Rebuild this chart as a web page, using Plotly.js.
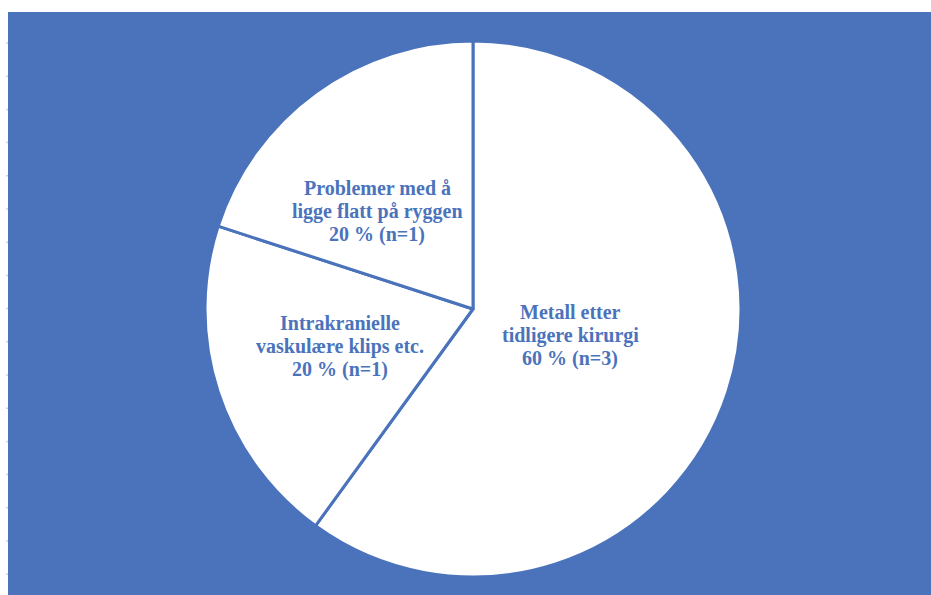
<!DOCTYPE html>
<html>
<head>
<meta charset="utf-8">
<script src="https://cdn.plot.ly/plotly-3.0.1.min.js"></script>
<style>
  html, body { margin: 0; padding: 0; background: #ffffff; }
  #chart { width: 931px; height: 595px; }
</style>
</head>
<body>
<div id="chart"></div>
<script>
// Reasons, in clockwise order from 12 o'clock
const categories = [
  "Metall etter<br>tidligere kirurgi",
  "Intrakranielle<br>vaskulære klips etc.",
  "Problemer med å<br>ligge flatt på ryggen"
];
// Number of patients per reason
const counts = [3, 1, 1];

const BLUE = "#4a73bc";
const W = 931, H = 595;

const total = counts.reduce((a, b) => a + b, 0);
const labelTexts = categories.map((c, i) =>
  c + "<br>" + Math.round(counts[i] / total * 100) + " % (n=" + counts[i] + ")"
);

// Label anchor points in pixels (centre of each text block) and line pitch
const labelPos = [[570, 335], [340, 346], [377, 211]];
const LINE_PITCH = 23.5;

// Pie geometry in pixels
const cx = 473, cy = 309, r = 268;

const trace = {
  type: "pie",
  labels: categories,
  values: counts,
  sort: false,
  direction: "clockwise",
  rotation: 0,
  textinfo: "none",
  hoverinfo: "label+value+percent",
  marker: {
    colors: categories.map(() => "#ffffff"),
    line: { color: BLUE, width: 3 }
  },
  domain: {
    x: [(cx - r) / W, (cx + r) / W],
    y: [1 - (cy + r) / H, 1 - (cy - r) / H]
  },
  showlegend: false
};

// Faint tick marks along the left edge of the panel
const edgeTicks = [];
for (let y = 43; y <= 575; y += 33.2) {
  edgeTicks.push({
    type: "line", xref: "paper", yref: "paper", layer: "above",
    x0: 6 / W, x1: 8 / W, y0: 1 - y / H, y1: 1 - y / H,
    line: { color: "#d0d0d0", width: 1.5 }
  });
}

// One annotation per text line so the line pitch can be set exactly
const annotations = [];
labelTexts.forEach((t, i) => {
  const lines = t.split("<br>");
  lines.forEach((ln, k) => {
    const yPix = labelPos[i][1] + (k - (lines.length - 1) / 2) * LINE_PITCH;
    annotations.push({
      text: ln,
      xref: "paper", yref: "paper",
      x: labelPos[i][0] / W, y: 1 - yPix / H,
      xanchor: "center", yanchor: "middle",
      showarrow: false,
      font: { family: "Liberation Serif, Times New Roman, serif", size: 20, weight: "bold", color: BLUE }
    });
  });
});

const layout = {
  width: W,
  height: H,
  margin: { l: 0, r: 0, t: 0, b: 0 },
  paper_bgcolor: "#ffffff",
  plot_bgcolor: "rgba(0,0,0,0)",
  shapes: [
    {
      type: "rect", xref: "paper", yref: "paper", layer: "below",
      x0: 8 / W, x1: 1, y0: 0, y1: 1 - 12 / H,
      fillcolor: BLUE, line: { width: 0 }
    }
  ].concat(edgeTicks),
  annotations: annotations
};

Plotly.newPlot("chart", [trace], layout, { displayModeBar: false, staticPlot: true });
</script>
</body>
</html>
